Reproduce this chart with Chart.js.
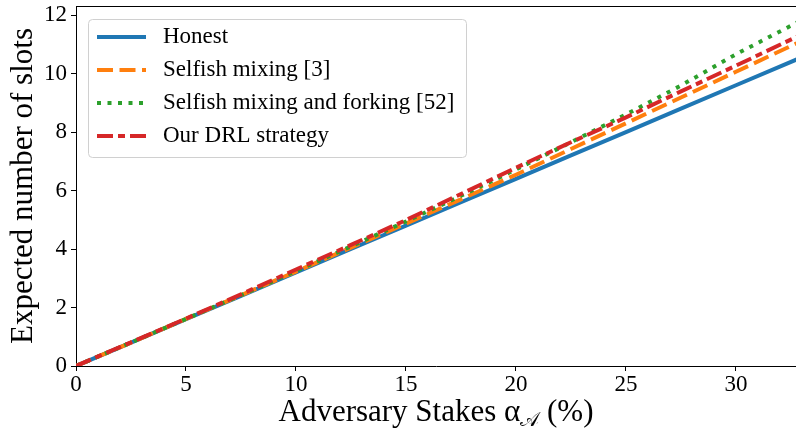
<!DOCTYPE html>
<html>
<head>
<meta charset="utf-8">
<script src="https://cdn.jsdelivr.net/npm/chart.js@4/dist/chart.umd.min.js"></script>
<style>
  html, body { margin: 0; padding: 0; background: #fff; }
  #wrap { width: 796px; height: 429px; position: relative; }
</style>
</head>
<body>
<div id="wrap"><canvas id="chSlots"></canvas></div>
<script>
// ============ 数据 ============
const alphaPct = [0, 2.5, 5, 7.5, 10, 12.5, 15, 17.5, 20, 22.5, 25, 27.5, 30, 33];
const honest      = [0, 0.80, 1.60, 2.40, 3.20, 4.00, 4.80, 5.60, 6.40, 7.20, 8.00, 8.80, 9.60, 10.56];
const selfishMix  = [0, 0.80, 1.61, 2.42, 3.23, 4.05, 4.87, 5.70, 6.54, 7.42, 8.30, 9.18, 10.06, 11.12];
const selfishFork = [0, 0.80, 1.61, 2.42, 3.25, 4.09, 4.94, 5.82, 6.72, 7.65, 8.60, 9.59, 10.66, 11.83];
const drl         = [0, 0.81, 1.62, 2.45, 3.30, 4.14, 4.99, 5.88, 6.78, 7.65, 8.50, 9.39, 10.27, 11.34];
const seriesNames = ['Honest', 'Selfish mixing [3]', 'Selfish mixing and forking [52]', 'Our DRL strategy'];
const xTicks = [0, 5, 10, 15, 20, 25, 30];
const yTicks = [0, 2, 4, 6, 8, 10, 12];

const SERIF = '"Liberation Serif", "DejaVu Serif", serif';
const pts = ys => alphaPct.map((x, i) => ({ x, y: ys[i] }));

// 边框 + 图例 + x轴标题（带下标）
const decor = {
  id: 'decor',
  afterDraw(chart) {
    const { ctx, chartArea: a } = chart;
    ctx.save();
    // 上边框
    ctx.strokeStyle = '#000';
    ctx.lineWidth = 1;
    ctx.beginPath();
    ctx.moveTo(a.left, a.top + 0.5);
    ctx.lineTo(a.right, a.top + 0.5);
    ctx.stroke();

    // 图例（放在绘图区内部左上角）
    const lx = a.left + 12, ly = a.top + 13, lw = 378, lh = 138;
    ctx.beginPath();
    ctx.roundRect(lx + 0.5, ly + 0.5, lw, lh, 4);
    ctx.fillStyle = 'rgba(255,255,255,0.8)';
    ctx.fill();
    ctx.strokeStyle = '#d0d0d0';
    ctx.stroke();
    ctx.font = '23px ' + SERIF;
    ctx.textBaseline = 'middle';
    chart.data.datasets.forEach((ds, i) => {
      const y = ly + 18 + i * 33;
      ctx.beginPath();
      ctx.setLineDash(ds.borderDash || []);
      ctx.lineWidth = ds.borderWidth;
      ctx.strokeStyle = ds.borderColor;
      ctx.moveTo(lx + 9, y);
      ctx.lineTo(lx + 58, y);
      ctx.stroke();
      ctx.setLineDash([]);
      ctx.fillStyle = '#000';
      ctx.fillText(ds.label, lx + 75, y);
    });

    // x轴标题: Adversary Stakes α_𝒜 (%)
    const p1 = 'Adversary Stakes α', sub = '𝒜', p2 = ' (%)';
    const big = '31px ' + SERIF, small = '20px ' + SERIF;
    ctx.font = big; const w1 = ctx.measureText(p1).width, w3 = ctx.measureText(p2).width;
    ctx.font = small; const w2 = ctx.measureText(sub).width;
    let x = (a.left + a.right) / 2 - (w1 + w2 + w3) / 2;
    const by = 421;
    ctx.textBaseline = 'alphabetic';
    ctx.fillStyle = '#000';
    ctx.font = big; ctx.fillText(p1, x, by); x += w1;
    ctx.font = small; ctx.fillText(sub, x, by + 5); x += w2;
    ctx.font = big; ctx.fillText(p2, x, by);
    ctx.restore();
  }
};

const tickGrid = { drawOnChartArea: false, drawTicks: true, tickLength: 5, color: '#000', lineWidth: 1 };

new Chart(document.getElementById('chSlots'), {
  type: 'line',
  data: {
    datasets: [
      { label: seriesNames[0], data: pts(honest), borderColor: '#1f77b4', borderWidth: 4, order: 3 },
      { label: seriesNames[1], data: pts(selfishMix), borderColor: '#ff7f0e', borderWidth: 4, borderDash: [16, 6.5], order: 2 },
      { label: seriesNames[2], data: pts(selfishFork), borderColor: '#2ca02c', borderWidth: 4, borderDash: [4, 6.5], order: 1 },
      { label: seriesNames[3], data: pts(drl), borderColor: '#d62728', borderWidth: 4, borderDash: [16, 5, 7, 5], order: 0 },
    ]
  },
  options: {
    responsive: true, maintainAspectRatio: false, animation: false,
    layout: { padding: { top: 6, right: 0, left: 0, bottom: 0 } },
    elements: { point: { radius: 0 }, line: { tension: 0, fill: false } },
    plugins: { legend: { display: false }, tooltip: { enabled: false } },
    scales: {
      x: {
        type: 'linear', min: 0, max: 32.73,
        afterBuildTicks: s => { s.ticks = xTicks.map(v => ({ value: v })); },
        afterFit: s => { s.height = 63; s.paddingLeft = 0; s.paddingRight = 0; },
        grid: tickGrid,
        border: { display: true, color: '#000', width: 1 },
        ticks: { color: '#000', font: { family: SERIF, size: 23 }, padding: 0, maxRotation: 0 }
      },
      y: {
        type: 'linear', min: 0, max: 12.31,
        afterBuildTicks: s => { s.ticks = yTicks.map(v => ({ value: v })); },
        afterFit: s => { s.width = 76; s.paddingTop = 0; s.paddingBottom = 0; },
        grid: tickGrid,
        border: { display: true, color: '#000', width: 1 },
        ticks: { color: '#000', font: { family: SERIF, size: 23 }, padding: 4 },
        title: { display: true, text: 'Expected number of slots', color: '#000', font: { family: SERIF, size: 31 }, padding: { top: 5, bottom: 0 } }
      }
    }
  },
  plugins: [decor]
});
</script>
</body>
</html>
